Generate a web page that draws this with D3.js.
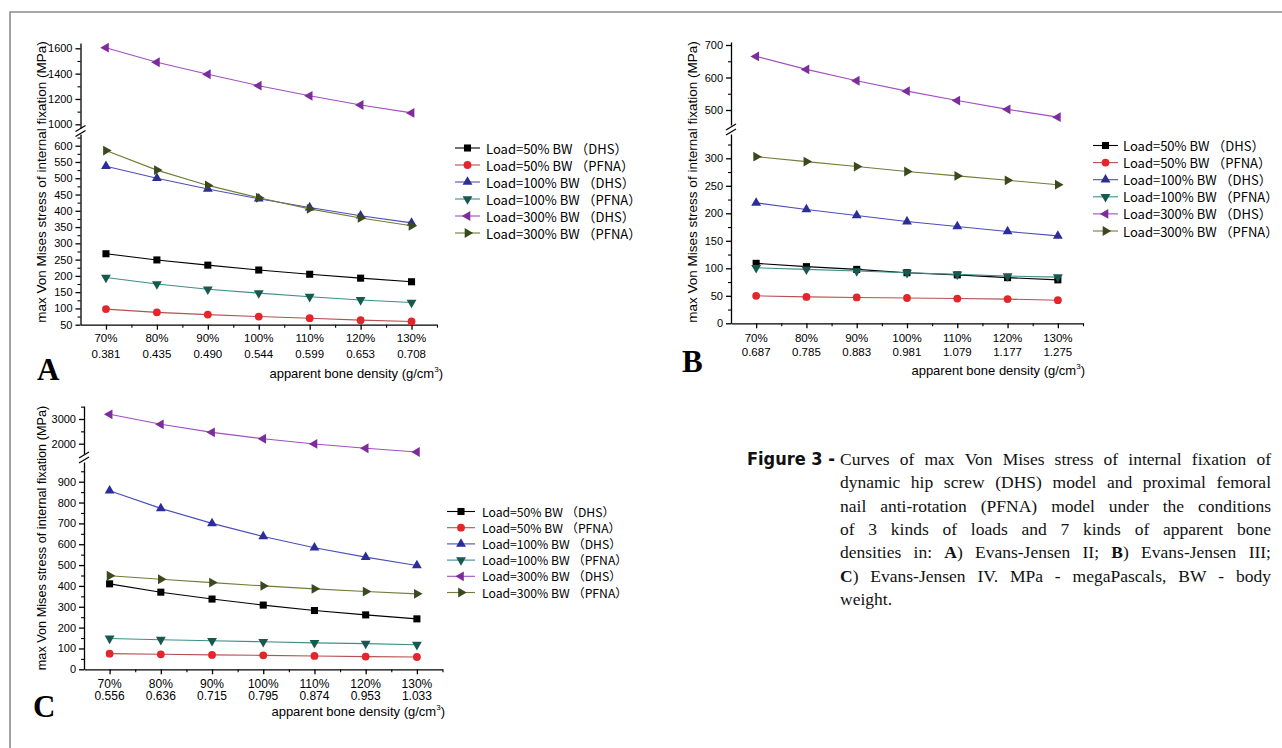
<!DOCTYPE html>
<html><head><meta charset="utf-8">
<script src="https://cdn.jsdelivr.net/npm/d3@7"></script>
<style>body{margin:0;background:#fff}svg{display:block}</style>
</head><body><svg id="c" width="1282" height="748"></svg>
<script>
// ---------- data ----------
const categories = ["70%","80%","90%","100%","110%","120%","130%"];
const densityA = ["0.381","0.435","0.490","0.544","0.599","0.653","0.708"];
const densityB = ["0.687","0.785","0.883","0.981","1.079","1.177","1.275"];
const densityC = ["0.556","0.636","0.715","0.795","0.874","0.953","1.033"];
const seriesNames = ["Load=50% BW （DHS）","Load=50% BW （PFNA）","Load=100% BW （DHS）",
                     "Load=100% BW （PFNA）","Load=300% BW （DHS）","Load=300% BW （PFNA）"];

const aDhs50   = [268,249,233,218,205,193,182];
const aPfna50  = [98,88,81,75,70,64,60];
const aDhs100  = [537,500,467,437,410,385,363];
const aPfna100 = [195,175,159,147,136,126,118];
const aDhs300  = [1605,1490,1395,1305,1225,1152,1090];
const aPfna300 = [585,525,478,440,406,378,354];

const bDhs50   = [109,103,98,92,88,83,79];
const bPfna50  = [50,48,47,46,45,44,42];
const bDhs100  = [219,207,196,185,176,167,159];
const bPfna100 = [101,98,95,92,89,86,84];
const bDhs300  = [665,625,590,558,529,502,478];
const bPfna300 = [303,294,285,276,268,260,252];

const cDhs50   = [410,370,337,308,282,261,242];
const cPfna50  = [75,72,69,67,64,61,59];
const cDhs100  = [857,772,700,637,583,538,498];
const cPfna100 = [148,142,137,132,127,123,118];
const cDhs300  = [3190,2785,2460,2200,1990,1815,1665];
const cPfna300 = [449,432,416,400,386,373,362];

const aUpperTicks = [1000,1200,1400,1600];
const aLowerTicks = [50,100,150,200,250,300,350,400,450,500,550,600];
const bUpperTicks = [500,600,700];
const bLowerTicks = [0,50,100,150,200,250,300];
const cUpperTicks = [2000,3000];
const cLowerTicks = [0,100,200,300,400,500,600,700,800,900];

const yTitle = "max Von Mises stress of internal fixation (MPa)";
const captionHead = "Figure 3 -";
const captionLines = [
  "Curves of max Von Mises stress of internal fixation of",
  "dynamic hip screw (DHS) model and proximal femoral",
  "nail anti-rotation (PFNA) model under the conditions",
  "of 3 kinds of loads and 7 kinds of apparent bone",
  "densities in: **A**) Evans-Jensen II; **B**) Evans-Jensen III;",
  "**C**) Evans-Jensen IV. MPa - megaPascals, BW - body",
  "weight."
];

// ---------- styles ----------
const lineColors   = ["#000000","#b5514f","#4d4db8","#3e8f88","#a14fc2","#6f7d38"];
const markerColors = ["#000000","#e3262b","#2b2d9b","#17594f","#7d2c9c","#3b4a1e"];
const markerShapes = ["square","circle","up","down","left","right"];

const svg = d3.select("#c");
svg.append("path").attr("d","M10,748V12H1282").attr("fill","none")
   .attr("stroke","#8c8c8c").attr("stroke-width",1.6);

const sansFont = "'Liberation Sans', Arial, sans-serif";
const legendFont = "'Noto Sans CJK SC', 'Noto Sans', sans-serif";

function markerPath(shape){
  const map = {square:[d3.symbolSquare,50,0],circle:[d3.symbolCircle,48,0],
    up:[d3.symbolTriangle,42,0],down:[d3.symbolTriangle,42,180],
    left:[d3.symbolTriangle,42,-90],right:[d3.symbolTriangle,42,90]};
  const m = map[shape];
  return {d: d3.symbol().type(m[0]).size(m[1])(), rot: m[2]};
}
function drawMarker(g, shape, color, cx, cy){
  const m = markerPath(shape);
  g.append("path").attr("d", m.d).attr("fill", color)
   .attr("transform", `translate(${cx},${cy}) rotate(${m.rot})`);
}

function drawPanel(cfg){
  const g = svg.append("g");
  const x = d3.scaleLinear().domain([-0.5, 6.5]).range([cfg.x0, cfg.x1]);
  const yU = d3.scaleLinear().domain(cfg.up.domain).range(cfg.up.range);
  const yL = d3.scaleLinear().domain(cfg.lo.domain).range(cfg.lo.range);

  function yAxisSeg(scale, seg, ticks){
    const s2 = d3.scaleLinear().domain([scale.invert(seg.ext[0]), scale.invert(seg.ext[1])]).range(seg.ext);
    const ax = d3.axisLeft(s2).tickValues(ticks).tickSize(5).tickSizeOuter(0).tickPadding(3)
      .tickFormat(d3.format("d"));
    const ga = g.append("g").attr("transform",`translate(${cfg.x0},0)`).call(ax);
    ga.selectAll("text").attr("font-family",sansFont).attr("font-size",cfg.yFont).attr("fill","#000");
    ga.selectAll("line,path").attr("stroke","#000").attr("stroke-width",1.3);
    const lo = Math.min(...s2.domain()), hi = Math.max(...s2.domain());
    const minor = d3.range(Math.ceil(lo/seg.minor)*seg.minor, hi+0.001, seg.minor).filter(v=>!ticks.includes(v));
    const gm = g.append("g").attr("transform",`translate(${cfg.x0},0)`)
      .call(d3.axisLeft(s2).tickValues(minor).tickSize(3).tickFormat(""));
    gm.select(".domain").remove();
    gm.selectAll("line").attr("stroke","#000").attr("stroke-width",1.1);
  }
  yAxisSeg(yU, cfg.up, cfg.up.ticks);
  yAxisSeg(yL, cfg.lo, cfg.lo.ticks);

  // break marks
  const bk = cfg.breakY;
  [0,5].forEach(off=>{
    g.append("line").attr("x1",cfg.x0-5).attr("y1",bk+off+3).attr("x2",cfg.x0+5).attr("y2",bk+off-3)
     .attr("stroke","#000").attr("stroke-width",1.2);
  });

  // x axis
  const xAxisY = cfg.lo.range[0];
  const gx = g.append("g").attr("transform",`translate(0,${xAxisY})`)
    .call(d3.axisBottom(x).tickValues(d3.range(categories.length)).tickSize(5).tickSizeOuter(0).tickFormat(""));
  gx.selectAll("line,path").attr("stroke","#000").attr("stroke-width",1.3);
  const gx2 = g.append("g").attr("transform",`translate(0,${xAxisY})`)
    .call(d3.axisBottom(x).tickValues(d3.range(0.5,6.6,1)).tickSize(3).tickFormat(""));
  gx2.select(".domain").remove();
  gx2.selectAll("line").attr("stroke","#000").attr("stroke-width",1.1);
  categories.forEach((c,i)=>{
    const t = g.append("text").attr("font-family",sansFont).attr("font-size",cfg.xFont)
      .attr("text-anchor","middle").attr("fill","#000");
    t.append("tspan").attr("x",x(i)).attr("y",cfg.xLab[0]).text(c);
    t.append("tspan").attr("x",x(i)).attr("y",cfg.xLab[1]).text(cfg.dens[i]);
  });
  const xt = g.append("text").attr("font-family",sansFont).attr("font-size",13)
    .attr("text-anchor","end").attr("x",cfg.xTitle[0]).attr("y",cfg.xTitle[1]).attr("fill","#000");
  xt.append("tspan").text("apparent bone density (g/cm");
  xt.append("tspan").attr("font-size",8).attr("dy",-6).text("3");
  xt.append("tspan").attr("dy",6).text(")");

  g.append("text").attr("font-family",sansFont).attr("font-size",cfg.yTitleFont)
    .attr("text-anchor","middle").attr("dominant-baseline","central")
    .attr("transform",`translate(${cfg.yTitle[0]},${cfg.yTitle[1]}) rotate(-90)`).text(yTitle);

  g.append("text").attr("font-family","'Liberation Serif', serif").attr("font-size",31)
    .attr("font-weight","bold")
    .attr("x",cfg.letter[1]).attr("y",cfg.letter[2]).text(cfg.letter[0]);

  // series
  cfg.series.forEach((vals,si)=>{
    const yy = v => v > cfg.lo.domain[1] + (cfg.up.domain[0]-cfg.lo.domain[1])/2 ? yU(v) : yL(v);
    const line = d3.line().x((d,i)=>x(i)).y(d=>yy(d));
    g.append("path").attr("d",line(vals)).attr("fill","none")
      .attr("stroke",lineColors[si]).attr("stroke-width",1.1);
    vals.forEach((v,i)=>drawMarker(g, markerShapes[si], markerColors[si], x(i), yy(v)));
  });

  // legend
  const L = cfg.legend;
  seriesNames.forEach((n,si)=>{
    const yy = L.y0 + si*L.step;
    g.append("line").attr("x1",L.lx0).attr("x2",L.lx1).attr("y1",yy).attr("y2",yy)
      .attr("stroke",lineColors[si]).attr("stroke-width",1.1);
    drawMarker(g, markerShapes[si], markerColors[si], (L.lx0+L.lx1)/2, yy);
    g.append("text").attr("font-family",legendFont).attr("font-size",L.font).attr("fill","#000")
      .attr("x",L.tx).attr("y",yy).attr("dominant-baseline","central").text(n);
  });
}

drawPanel({
  x0:80.5, x1:437, dens:densityA,
  up:{domain:[1000,1600], range:[124.3,48.3], ext:[128,43], ticks:aUpperTicks, minor:100},
  lo:{domain:[50,600], range:[324.7,145.7], ext:[324.7,134], ticks:aLowerTicks, minor:25},
  breakY:128.5, yFont:11, xFont:11.5, xLab:[342,358], xTitle:[443,378],
  yTitle:[41,182], yTitleFont:13.5, letter:["A",37,380],
  series:[aDhs50,aPfna50,aDhs100,aPfna100,aDhs300,aPfna300],
  legend:{lx0:455, lx1:480, tx:486, y0:148, step:17, font:13}
});
drawPanel({
  x0:731, x1:1083, dens:densityB,
  up:{domain:[500,700], range:[110,45], ext:[125,42], ticks:bUpperTicks, minor:50},
  lo:{domain:[0,300], range:[323.3,158.3], ext:[323.3,134], ticks:bLowerTicks, minor:25},
  breakY:127, yFont:11, xFont:11.5, xLab:[342,356], xTitle:[1085,375],
  yTitle:[692,182], yTitleFont:13.5, letter:["B",682,372],
  series:[bDhs50,bPfna50,bDhs100,bPfna100,bDhs300,bPfna300],
  legend:{lx0:1093, lx1:1118, tx:1123, y0:145.5, step:17.1, font:13}
});
drawPanel({
  x0:84, x1:442.5, dens:densityC,
  up:{domain:[2000,3000], range:[443.7,419], ext:[454,406], ticks:cUpperTicks, minor:500},
  lo:{domain:[0,900], range:[669.3,481.7], ext:[669.3,462], ticks:cLowerTicks, minor:50},
  breakY:455, yFont:11, xFont:12, xLab:[687.5,700], xTitle:[445,716],
  yTitle:[42,538], yTitleFont:12.7, letter:["C",33,717],
  series:[cDhs50,cPfna50,cDhs100,cPfna100,cDhs300,cPfna300],
  legend:{lx0:447, lx1:475, tx:482, y0:511.5, step:16.2, font:12.2}
});

// ---------- caption ----------
svg.append("text").attr("x",747).attr("y",465).attr("font-family","'DejaVu Sans', sans-serif")
  .attr("font-weight","bold").attr("font-size",17).attr("textLength",88)
  .attr("lengthAdjust","spacingAndGlyphs").attr("fill","#111").text(captionHead);

const capX0 = 840, capX1 = 1271, capY0 = 465, capStep = 23.35, capFont = 17.5;
const serif = "'Liberation Serif', 'Times New Roman', serif";
const meas = svg.append("text").attr("font-family",serif).attr("font-size",capFont).attr("visibility","hidden");
function segs(word){
  return word.split(/(\*\*[^*]+\*\*)/).filter(s=>s.length).map(s=>
    s.startsWith("**") ? {t:s.slice(2,-2), b:true} : {t:s, b:false});
}
function wordWidth(word){
  meas.selectAll("*").remove();
  segs(word).forEach(s=>meas.append("tspan").attr("font-weight",s.b?"bold":"normal").text(s.t));
  return meas.node().getComputedTextLength();
}
captionLines.forEach((ln,li)=>{
  const words = ln.split(/\s+/);
  const widths = words.map(wordWidth);
  const total = d3.sum(widths);
  const last = li === captionLines.length-1;
  const gap = last ? 4.4 : (capX1-capX0-total)/(words.length-1);
  const t = svg.append("text").attr("font-family",serif).attr("font-size",capFont)
    .attr("y",capY0+li*capStep).attr("fill","#111");
  let cx = capX0;
  words.forEach((w,wi)=>{
    segs(w).forEach((s,k)=>{
      const sp = t.append("tspan").attr("font-weight",s.b?"bold":"normal").text(s.t);
      if(k===0) sp.attr("x",cx);
    });
    cx += widths[wi] + gap;
  });
});
meas.remove();
</script></body></html>
